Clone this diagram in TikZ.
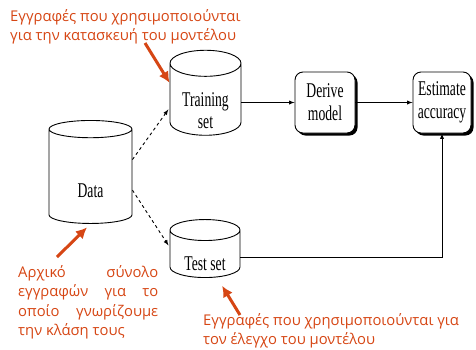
\documentclass[tikz,border=0pt]{standalone}
\usepackage{fontspec}
\setmainfont{Liberation Serif}
\newfontfamily\notefont{Open Sans}
\usetikzlibrary{shapes.geometric}
\usetikzlibrary{arrows}
\usetikzlibrary{arrows.meta}
\usetikzlibrary{shadows}
\setlength{\parindent}{0pt}
\definecolor{notered}{RGB}{214,70,20}
\newcommand{\nar}[1]{\scalebox{0.65}[1]{#1}}

\begin{document}
\begin{tikzpicture}[x=1pt, y=-1pt,
        store/.style = {cylinder, shape border rotate=90, draw, line width=0.9pt,
            inner sep=0pt, align=center, font=\fontsize{21}{22}\selectfont},
        storetext/.style = {inner sep=0pt, align=center, font=\fontsize{21}{22}\selectfont},
        stagebox/.style = {draw, line width=0.9pt, rounded corners=8pt, fill=white,
            inner sep=0pt, align=center, font=\fontsize{21}{23}\selectfont,
            drop shadow={shadow xshift=2.5pt, shadow yshift=-2.5pt, fill=black, opacity=1}},
        flow/.style = {line width=0.9pt, -latex},
        dashflow/.style = {line width=0.9pt, dashed, -latex},
        note/.style = {text=notered, inner sep=0pt, font=\notefont\fontsize{14.8}{19.5}\selectfont},
        notearrow/.style = {notered, line width=3pt, -{Latex[length=11pt, width=11pt]}}]
        \useasboundingbox (0, 0) rectangle (476, 349);

        % stores
        \node [store, minimum width=83pt, minimum height=103pt, aspect=0.67]
            (data) at (90.5, 176.5) {\phantom{\nar{Data}}};
        \node [store, minimum width=71pt, minimum height=85pt, aspect=0.56]
            (train) at (205.5, 99.5) {\phantom{\nar{Training}}\\\phantom{\nar{set}}};
        \node [store, minimum width=70pt, minimum height=58pt, aspect=0.51]
            (test) at (205, 254) {\phantom{\nar{Test set}}};
        \node [storetext] (datatext) at ([yshift=-18.5pt]data.shape center) {\nar{Data}};
        \node [storetext] (traintext) at ([yshift=-17.5pt]train.shape center) {\nar{Training}\\\nar{set}};
        \node [storetext] (testtext) at ([yshift=-15pt]test.shape center) {\nar{Test set}};

        % steps
        \node [stagebox, minimum width=60pt, minimum height=61pt]
            (derive) at (325, 102.5) {\nar{Derive}\\\nar{model}};
        \node [stagebox, minimum width=58pt, minimum height=61pt]
            (estimate) at (442, 102.5) {\nar{Estimate}\\\nar{accuracy}};

        \draw [flow] (train.east |- derive.west) -- (derive.west);
        \draw [flow] (derive) -- (estimate);
        \draw [flow] ([yshift=-3pt]test.east) -| (estimate.south);
        \draw [dashflow, shorten >=2pt] (data.22) -- (train.193);
        \draw [dashflow, shorten >=2pt] (data.-18) -- (test.169);

        % notes
        \node [note, anchor=north west, align=left] (topnote) at (10, 9)
            {Εγγραφές που χρησιμοποιούνται\\για την κατασκευή του μοντέλου};
        \node [note, anchor=north west, text width=140pt, align=justify] (leftnote) at (18, 265)
            {Αρχικό σύνολο\linebreak εγγραφών για το\linebreak οποίο γνωρίζουμε\linebreak την κλάση τους};
        \node [note, anchor=north west, align=left] (rightnote) at (203, 313)
            {Εγγραφές που χρησιμοποιούνται για\\τον έλεγχο του μοντέλου};

        \coordinate (topfoot) at (145, 43);
        \coordinate (leftfoot) at (57, 257);
        \coordinate (rightfoot) at (240, 315);
        \draw [notearrow] (topfoot) -- (train.155);
        \draw [notearrow, shorten >=5pt] (leftfoot) -- (data.south);
        \draw [notearrow, shorten >=10pt] (rightfoot) -- (test.-63);
\end{tikzpicture}
\end{document}
